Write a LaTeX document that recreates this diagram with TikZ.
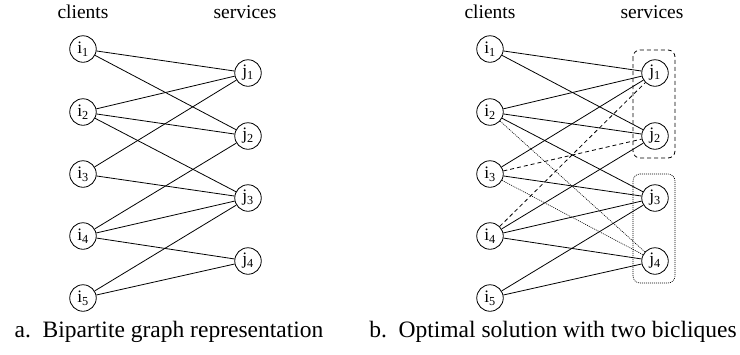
\documentclass[tikz,border=0pt]{standalone}
\usepackage{fontspec}
\setmainfont{Liberation Serif}
\begin{document}
\begin{tikzpicture}[x=1pt,y=-1pt,
  vtx/.style={draw,circle,minimum size=26.5pt,inner sep=0pt,line width=0.8pt,font=\fontsize{17.5}{20}\selectfont},
  hdr/.style={font=\fontsize{19.5}{22}\selectfont,anchor=base},
  captxt/.style={font=\fontsize{23.5}{26}\selectfont,anchor=base},
  solidedge/.style={line width=0.8pt},
  dashedge/.style={line width=0.8pt,dash pattern=on 4pt off 3pt},
  dotedge/.style={line width=0.6pt,dash pattern=on 1pt off 1pt},
  dashbox/.style={line width=0.8pt,dash pattern=on 4pt off 3pt,rounded corners=7pt},
  dotbox/.style={line width=0.6pt,dash pattern=on 1pt off 1pt,rounded corners=7pt}]
\useasboundingbox (0,0) rectangle (740,354);

% ---------- panel a ----------
\node[hdr] (ca) at (83,18) {clients};
\node[hdr] (sa) at (245,18) {services};
\foreach \k/\y in {1/49,2/112,3/174,4/236,5/298}
  \node[vtx] (ai\k) at (83,\y) {i\textsubscript{\k}};
\foreach \k/\y in {1/73,2/136,3/198,4/261}
  \node[vtx] (aj\k) at (248,\y) {j\textsubscript{\k}};
\foreach \a/\b in {1/1,1/2,2/1,2/2,2/3,3/1,3/3,4/2,4/3,4/4,5/3,5/4}
  \draw[solidedge] (ai\a) -- (aj\b);
\node[captxt] (capa) at (169,337) {a.\ \ Bipartite graph representation};

% ---------- panel b ----------
\node[hdr] (cb) at (490,18) {clients};
\node[hdr] (sb) at (652,18) {services};
\foreach \k/\y in {1/49,2/112,3/174,4/236,5/298}
  \node[vtx] (bi\k) at (490,\y) {i\textsubscript{\k}};
\foreach \k/\y in {1/73,2/136,3/198,4/261}
  \node[vtx] (bj\k) at (655,\y) {j\textsubscript{\k}};
\foreach \a/\b in {1/1,1/2,2/1,2/2,2/3,3/1,3/3,4/2,4/3,4/4,5/3,5/4}
  \draw[solidedge] (bi\a) -- (bj\b);
\draw[dashedge] (bi3) -- (bj2);
\draw[dashedge] (bi4) -- (bj1);
\draw[dotedge] (bi2) -- (bj4);
\draw[dotedge] (bi3) -- (bj4);
\coordinate (d1) at (633,50);
\coordinate (d2) at (675,158);
\draw[dashbox] (d1) rectangle (d2);
\coordinate (e1) at (633,174);
\coordinate (e2) at (675,283);
\draw[dotbox] (e1) rectangle (e2);
\node[captxt] (capb) at (553,337) {b.\ \ Optimal solution with two bicliques};
\end{tikzpicture}
\end{document}
